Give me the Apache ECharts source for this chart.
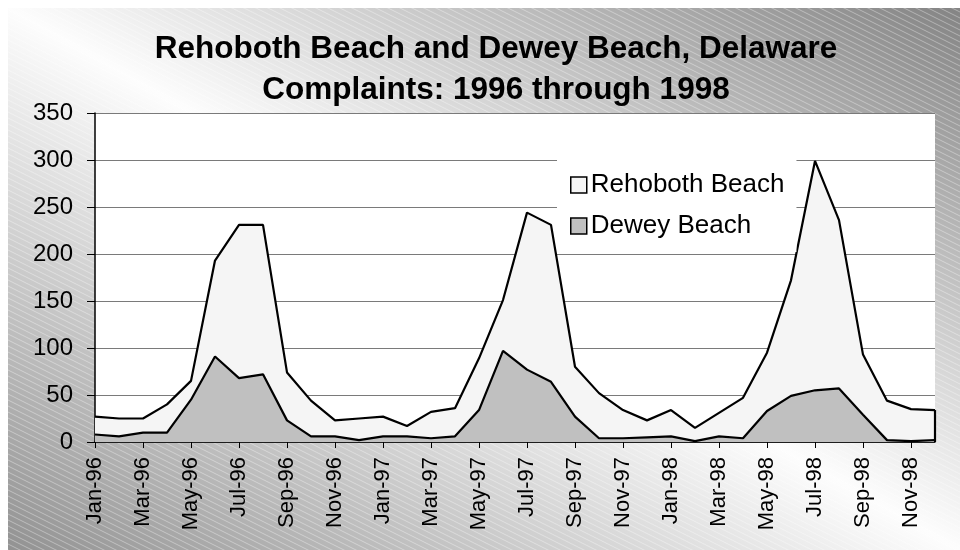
<!DOCTYPE html>
<html>
<head>
<meta charset="utf-8">
<script src="https://cdn.jsdelivr.net/npm/echarts@6/dist/echarts.min.js"></script>
<style>html,body{margin:0;padding:0;background:#fff}#c{width:960px;height:550px}</style>
</head>
<body>
<div id="c"></div>
<script>
var categories = ['Jan-96','Feb-96','Mar-96','Apr-96','May-96','Jun-96','Jul-96','Aug-96','Sep-96','Oct-96','Nov-96','Dec-96',
  'Jan-97','Feb-97','Mar-97','Apr-97','May-97','Jun-97','Jul-97','Aug-97','Sep-97','Oct-97','Nov-97','Dec-97',
  'Jan-98','Feb-98','Mar-98','Apr-98','May-98','Jun-98','Jul-98','Aug-98','Sep-98','Oct-98','Nov-98','Dec-98'];
var rehoboth = [27,25,25,40,65,193,231,231,74,44,23,25,
  27,17,32,36,89,151,244,231,80,52,34,23,
  34,15,31,47,95,172,299,236,93,44,35,34];
var dewey = [8,6,10,10,45,91,68,72,23,6,6,2,
  6,6,4,6,34,97,77,64,27,4,4,5,
  6,1,6,4,33,49,55,57,29,2,1,2];
var seriesNames = ['Rehoboth Beach','Dewey Beach'];
var titleLines = ['Rehoboth Beach and Dewey Beach, Delaware','Complaints: 1996 through 1998'];

var FONT = 'Liberation Sans, Arial, sans-serif';

// hatch pattern
var pc = document.createElement('canvas');
pc.width = 12; pc.height = 6;
var g = pc.getContext('2d');
g.strokeStyle = 'rgba(255,255,255,0.35)';
g.lineWidth = 1;
for (var k = -1; k <= 1; k++) {
  g.beginPath();
  g.moveTo(-2, k*6 - 1);
  g.lineTo(14, k*6 + 7);
  g.stroke();
}

var chart = echarts.init(document.getElementById('c'), null, {renderer: 'canvas'});
var last = categories.length - 1;
chart.setOption({
  backgroundColor: '#ffffff',
  animation: false,
  graphic: {
    elements: [
      {type: 'rect', z: -20, silent: true,
        shape: {x: 8, y: 8, width: 952, height: 542},
        style: {fill: new echarts.graphic.LinearGradient(717, -130, 251, 688, [
          {offset: 0, color: '#848484'},
          {offset: 0.5, color: '#fdfdfd'},
          {offset: 1, color: '#929292'}
        ], true)}},
      {type: 'rect', z: -19, silent: true,
        shape: {x: 8, y: 8, width: 952, height: 542},
        style: {fill: {image: pc, repeat: 'repeat'}}}
    ]
  },
  title: {
    text: titleLines.join('\n'),
    left: 491, top: 24, textAlign: 'center',
    textStyle: {fontFamily: FONT, fontSize: 31.5, fontWeight: 'bold', color: '#000', lineHeight: 41}
  },
  legend: {
    orient: 'vertical',
    left: 557, top: 156,
    backgroundColor: '#ffffff',
    padding: [16, 12, 13, 13],
    itemGap: 15,
    itemWidth: 16, itemHeight: 16,
    icon: 'rect',
    textStyle: {fontFamily: FONT, fontSize: 26, color: '#000', padding: [0,0,0,-1]},
    data: [
      {name: seriesNames[0], icon: 'rect', itemStyle: {color: '#f5f5f5', borderColor: '#000', borderWidth: 1.5}},
      {name: seriesNames[1], icon: 'rect', itemStyle: {color: '#c0c0c0', borderColor: '#000', borderWidth: 1.5}}
    ]
  },
  grid: {left: 95, right: 25, top: 113, bottom: 108, show: true, backgroundColor: '#ffffff', borderWidth: 0},
  xAxis: {
    type: 'category', data: categories, boundaryGap: false,
    axisLine: {lineStyle: {color: '#000', width: 1.5}},
    axisTick: {show: true, interval: 1, length: 6, lineStyle: {color: '#000', width: 1}},
    axisLabel: {interval: 1, rotate: 90, margin: 15, fontFamily: FONT, fontSize: 22, color: '#000'},
    splitLine: {show: false}
  },
  yAxis: {
    type: 'value', min: 0, max: 350, interval: 50,
    axisLine: {show: true, lineStyle: {color: '#000', width: 1.5}},
    axisTick: {show: true, length: 8, lineStyle: {color: '#000'}},
    axisLabel: {margin: 22, fontFamily: FONT, fontSize: 24, color: '#000'},
    splitLine: {lineStyle: {color: '#7a7a7a', width: 1}}
  },
  series: [
    {name: seriesNames[0], type: 'line', data: rehoboth, symbol: 'none', z: 2,
      itemStyle: {color: '#f5f5f5'},
      lineStyle: {color: '#000', width: 2.2},
      areaStyle: {color: '#f5f5f5', opacity: 1},
      markLine: {silent: true, symbol: 'none', label: {show: false},
        lineStyle: {color: '#000', width: 2.2, type: 'solid'},
        data: [[{coord: [categories[last], 0]}, {coord: [categories[last], rehoboth[last]]}]]}
    },
    {name: seriesNames[1], type: 'line', data: dewey, symbol: 'none', z: 3,
      itemStyle: {color: '#c0c0c0'},
      lineStyle: {color: '#000', width: 2.2},
      areaStyle: {color: '#c0c0c0', opacity: 1}
    }
  ]
});
</script>
</body>
</html>
